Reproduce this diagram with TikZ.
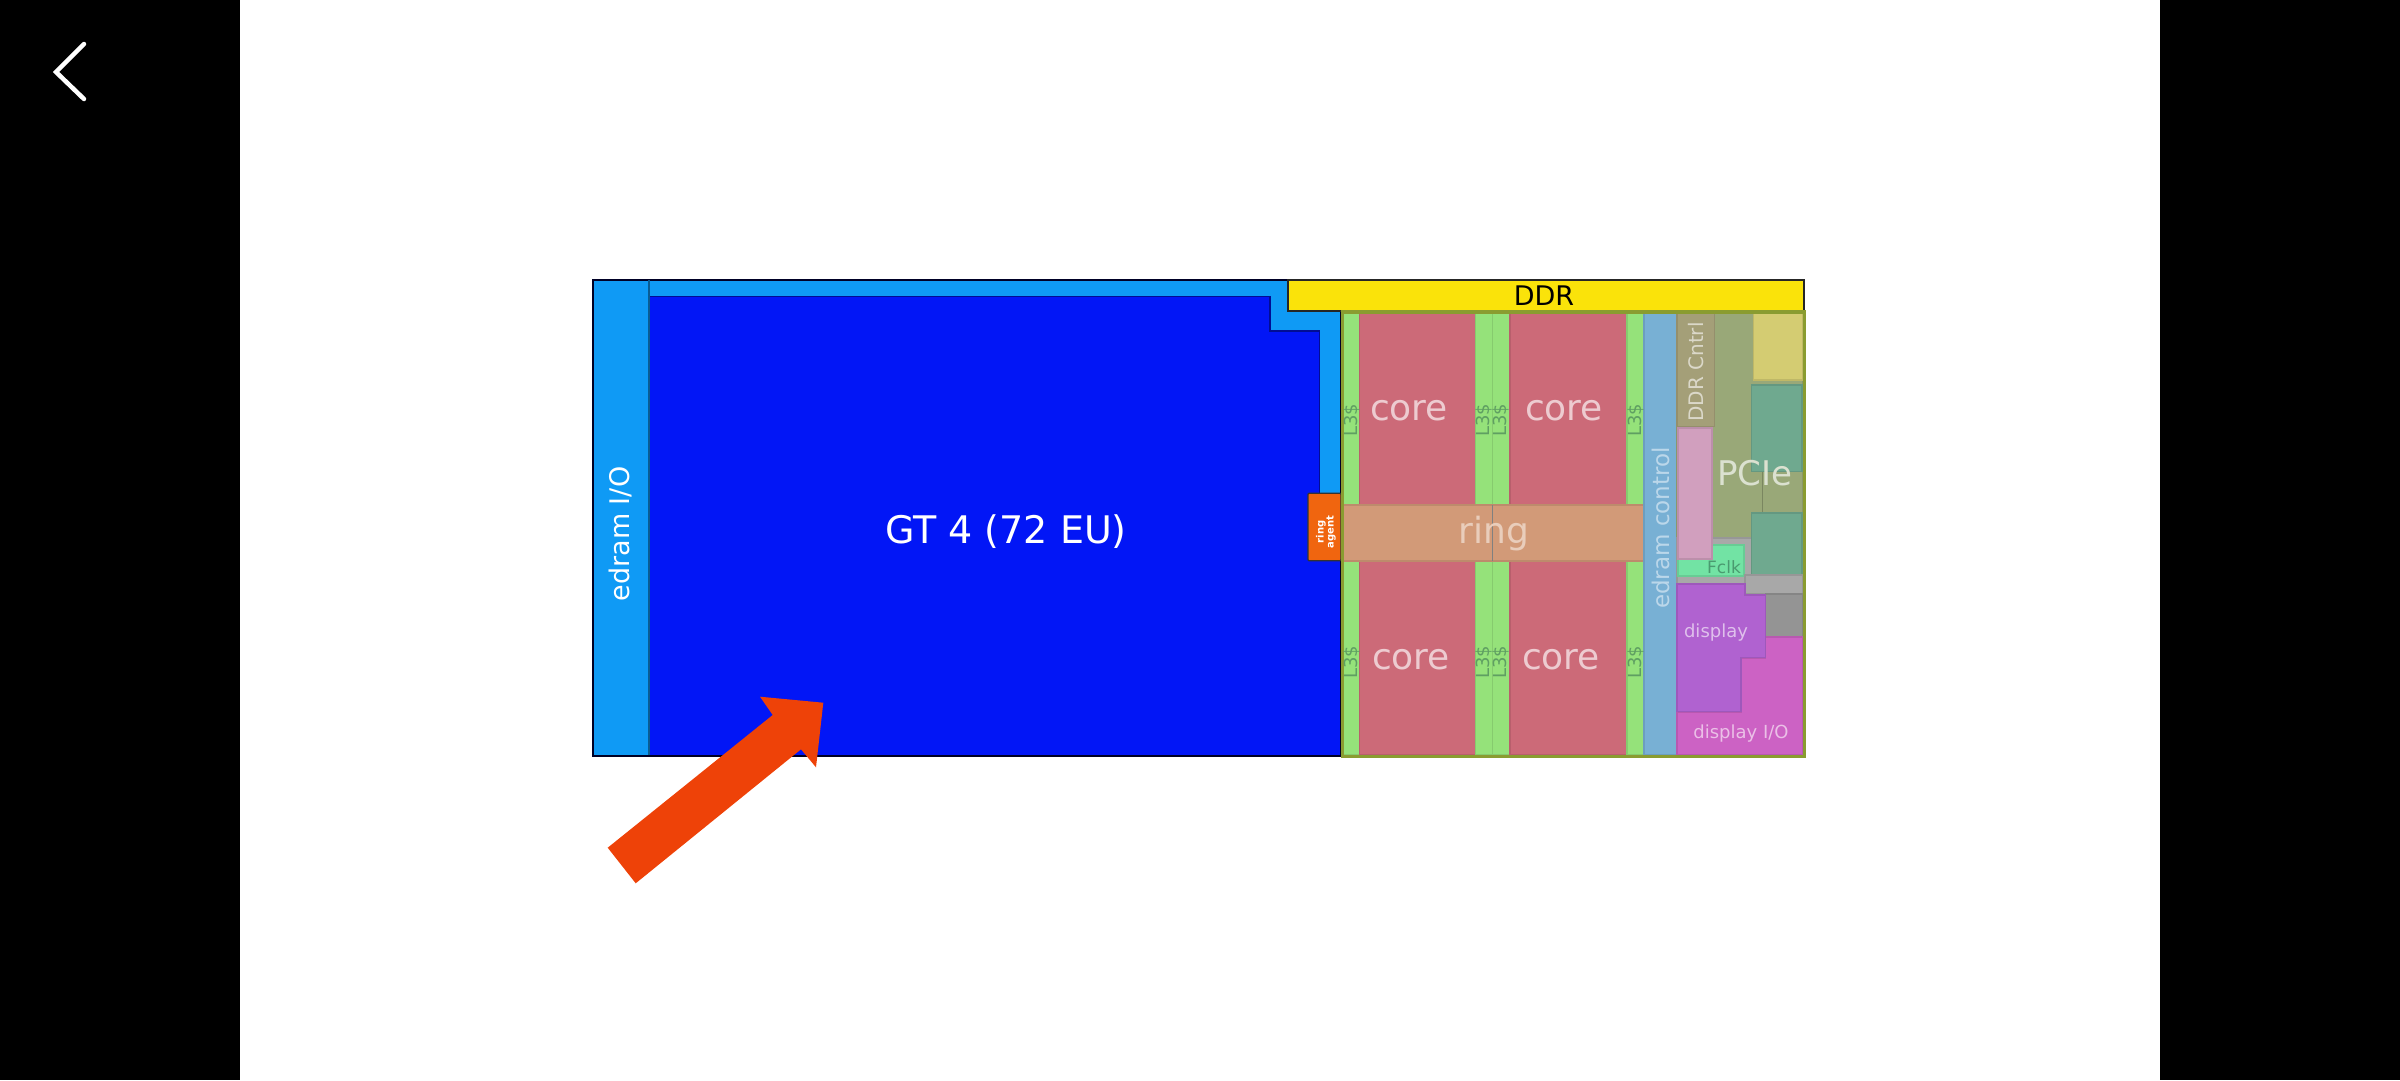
\documentclass[tikz,border=0pt]{standalone}
\usepackage{fontspec}
\setmainfont{DejaVu Sans}
\definecolor{cdeep}{HTML}{0216F6}
\definecolor{clight}{HTML}{0F9AF5}
\definecolor{cddr}{HTML}{FAE30A}
\definecolor{cltg}{HTML}{95E27A}
\definecolor{ccore}{HTML}{CC6A78}
\definecolor{cring}{HTML}{D29A78}
\definecolor{cedc}{HTML}{78B0D4}
\definecolor{ccntrl}{HTML}{A49F78}
\definecolor{cpink}{HTML}{D19FBE}
\definecolor{cpcie}{HTML}{99A878}
\definecolor{cyel}{HTML}{D4CC72}
\definecolor{cteal}{HTML}{6FA98F}
\definecolor{cfclk}{HTML}{72E3A4}
\definecolor{cgrey}{HTML}{A8A8A8}
\definecolor{cdgrey}{HTML}{949494}
\definecolor{cpurp}{HTML}{B062D0}
\definecolor{cmag}{HTML}{CC62C4}
\definecolor{colive}{HTML}{8A9C30}
\definecolor{corange}{HTML}{F0650F}
\definecolor{carrow}{HTML}{EE4208}
\definecolor{cltxt}{HTML}{5F9F62}
\definecolor{cfctxt}{HTML}{4A9A70}
\tikzset{
  reg/.style={fill=#1,draw=#1!90!black,line width=1.2pt,line join=miter},
  sz/.style={font=\fontsize{#1}{#1}\selectfont,inner sep=0pt},
  ltlabel/.style={sz=18,rotate=90,text=cltxt},
}
\begin{document}
\begin{tikzpicture}[x=1pt,y=-1pt]
\useasboundingbox (0,0) rectangle (2400,1080);
\fill[black] (0,0) rectangle (240,1080);
\fill[black] (2160,0) rectangle (2400,1080);
\draw[white,line width=4.5pt,line cap=round,line join=miter] (84,44) -- (56,72) -- (84,99);
% blue part
\draw[fill=clight,draw=black!85!blue,line width=1.6pt] (592.7,280) rectangle (1341,756);
\draw[fill=cdeep,draw=cdeep!60!black,line width=1.4pt] (649,756) -- (649,296.7) -- (1270,296.7) -- (1270,331) -- (1319.5,331) -- (1319.5,500) -- (1341,500) -- (1341,756) -- cycle;
\draw[draw=clight!60!black,line width=1.5pt] (649,280) -- (649,756);
\draw[black!85!blue,line width=1.6pt] (592.7,756) -- (1341,756) -- (1341,500);
\draw[fill=cddr,draw=black!85,line width=1.6pt] (1288,280) rectangle (1804,310.7);
\draw[reg=corange,draw=black!80,rounded corners=1pt] (1308,493.3) rectangle (1341,560.7);
% floorplan base
\fill[cpcie] (1341,311) rectangle (1804,756);
% L3 bars and cores
\path[reg=cltg] (1343,313) rectangle (1359.2,505);
\path[reg=ccore] (1359.2,313) rectangle (1475.6,505);
\path[reg=cltg] (1475.6,313) rectangle (1492.8,505);
\path[reg=cltg] (1492.8,313) rectangle (1510,505);
\path[reg=ccore] (1510,313) rectangle (1627,505);
\path[reg=cltg] (1627,313) rectangle (1644,505);
\path[reg=cltg] (1343,561) rectangle (1359.2,755);
\path[reg=ccore] (1359.2,561) rectangle (1475.6,755);
\path[reg=cltg] (1475.6,561) rectangle (1492.8,755);
\path[reg=cltg] (1492.8,561) rectangle (1510,755);
\path[reg=ccore] (1510,561) rectangle (1627,755);
\path[reg=cltg] (1627,561) rectangle (1644,755);
\path[reg=cring] (1343,505) rectangle (1644,561);
\draw[black!50,line width=1pt] (1492.8,505) -- (1492.8,561);
\path[reg=cedc] (1644,313) rectangle (1677,755);
% right block
\path[reg=cpcie] (1677,313) rectangle (1803,540);
\path[reg=ccntrl] (1677,313) rectangle (1714.6,426.7);
\path[reg=cyel] (1753.5,313) rectangle (1803,380);
\path[reg=cteal] (1751.8,385) rectangle (1802,471.7);
\draw[cpcie!80!black,line width=1pt] (1762,471.7) -- (1762,513);
\path[reg=cgrey] (1677,538) rectangle (1752,584);
\path[reg=cfclk] (1678,545) rectangle (1744,576);
\path[reg=cpink] (1678,428) rectangle (1712,559);
\path[reg=cteal] (1751.8,513) rectangle (1802,575);
\path[reg=cgrey] (1745,575) rectangle (1803,594);
\path[reg=cdgrey] (1765.5,594) rectangle (1803,637);
\path[reg=cmag] (1677,712) -- (1741,712) -- (1741,658) -- (1765.5,658) -- (1765.5,637) -- (1803,637) -- (1803,755) -- (1677,755) -- cycle;
\path[reg=cpurp] (1677,584) -- (1745,584) -- (1745,595) -- (1765.5,595) -- (1765.5,657.7) -- (1741,657.7) -- (1741,711.7) -- (1677,711.7) -- cycle;
\draw[colive,line width=3.4pt] (1342.5,312) rectangle (1804.5,756.5);
% arrow
\fill[carrow] (607.7,847.7) -- (772.7,715) -- (760,696.7) -- (823.3,702.7) -- (816,767.3) -- (801,749.3) -- (635.7,883.3) -- cycle;
% labels
\node[sz=38,text=white] (gt) at (1006,532) {GT 4 (72 EU)};
\node[sz=27,text=white,rotate=90] (edio) at (620,534) {edram I/O};
\node[sz=27,text=black] (ddr) at (1544,296) {DDR};
\node[sz=10,text=white,rotate=90,align=center,font=\fontsize{10}{10}\selectfont\bfseries] (agent) at (1326,532) {ring\\agent};
\foreach \n/\x/\y in {ca/1409/411,cb/1564/411,cc/1411/660,cd/1561/660}
  \node[sz=36,text=ccore!35!white] (\n) at (\x,\y) {core};
\node[sz=36,text=cring!50!white] (ringl) at (1494,534) {ring};
\foreach \n/\x/\y in {la/1352/420,lb/1484/420,lc/1501/420,ld/1636/420,le/1352/662,lf/1484/662,lg/1501/662,lh/1636/662}
  \node[ltlabel] (\n) at (\x,\y) {L3\$};
\node[sz=23,text=cedc!50!white,rotate=90] (edc) at (1661,528) {edram control};
\node[sz=20,text=ccntrl!40!white,rotate=90] (cntrl) at (1696.5,372) {DDR Cntrl};
\node[sz=34,text=cpcie!35!white] (pcie) at (1755,473) {PCIe};
\node[sz=17,text=cfctxt] (fclk) at (1724,567) {Fclk};
\node[sz=18,text=cpurp!40!white] (disp) at (1716,633) {display};
\node[sz=18,text=cmag!40!white] (dio) at (1741,734) {display I/O};
\end{tikzpicture}
\end{document}
